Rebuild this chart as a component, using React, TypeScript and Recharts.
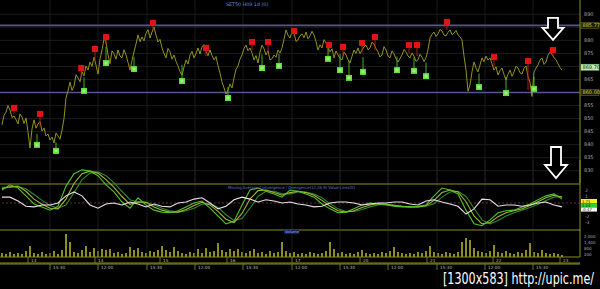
import React from "react";
import {
  ComposedChart,
  Line,
  Scatter,
  Bar,
  XAxis,
  YAxis,
  ReferenceLine,
  ReferenceDot,
  ErrorBar,
} from "recharts";

// ---------- DATA ----------
// price at each bar (4 px apart) and the swing between two bars
const priceClose = [
  847.6, 852.5, 853.3, 851.0, 847.9, 850.6, 850.2, 838.7, 849.5, 847.9,
  845.2, 843.3, 841.8, 840.6, 843.3, 845.6, 857.9, 864.0, 862.5, 865.6,
  867.9, 870.2, 871.7, 873.6, 867.1, 876.3, 879.4, 871.0, 874.8, 876.3,
  873.3, 874.4, 868.6, 875.6, 882.1, 881.3, 882.8, 880.9, 885.1, 879.4,
  877.1, 873.3, 875.6, 874.4, 870.2, 866.7, 872.5, 874.4, 873.3, 877.1,
  877.5, 875.6, 876.3, 872.5, 870.2, 864.0, 859.4, 863.3, 865.6, 870.2,
  874.4, 878.2, 877.1, 872.5, 871.3, 878.2, 874.4, 872.5, 874.4, 876.3,
  877.1, 884.0, 880.9, 882.8, 880.2, 882.5, 883.2, 881.7, 882.1, 876.3,
  877.1, 879.0, 875.6, 873.3, 874.4, 872.5, 874.4, 871.3, 876.3, 877.1,
  876.3, 878.2, 877.1, 878.6, 875.6, 874.4, 876.3, 873.3, 874.8, 871.7,
  874.4, 875.6, 873.3, 874.0, 872.5, 873.6, 873.3, 880.9, 883.2, 882.5,
  883.6, 881.7, 884.0, 882.8, 882.1, 880.2, 868.6, 862.9, 871.7, 867.9,
  873.3, 874.0, 873.3, 868.6, 866.7, 869.4, 864.8, 868.6, 867.9, 869.4,
  867.1, 870.2, 864.0, 867.9, 870.6, 873.3, 871.7, 875.6, 873.3, 871.0,
  868.6,
];
const priceMid = [
  851.2, 855.0, 850.4, 849.6, 851.8, 848.1, 845.0, 846.0, 846.3, 848.8,
  846.4, 844.1, 842.9, 844.5, 842.1, 850.0, 860.6, 860.8, 866.8, 864.1,
  866.4, 868.6, 870.0, 870.5, 872.9, 880.6, 874.5, 876.0, 872.8, 874.0,
  876.4, 871.6, 872.3, 878.6, 879.5, 879.8, 884.1, 883.2, 882.0, 880.4,
  875.0, 876.9, 872.8, 871.9, 868.0, 869.8, 870.9, 875.8, 875.0, 874.8,
  878.4, 874.1, 874.2, 873.8, 867.5, 861.8, 861.0, 861.7, 868.9, 872.8,
  876.9, 876.0, 875.1, 874.2, 875.5, 876.8, 876.0, 873.0, 873.5, 875.2,
  880.5, 882.0, 883.4, 879.6, 881.8, 881.0, 880.6, 883.5, 879.5, 878.3,
  880.3, 877.1, 876.8, 875.9, 873.0, 875.5, 872.6, 873.9, 875.0, 874.9,
  877.5, 876.4, 879.3, 876.9, 873.6, 877.6, 874.0, 876.0, 872.9, 873.1,
  876.5, 874.0, 875.2, 871.9, 874.7, 871.9, 876.5, 882.3, 881.5, 884.2,
  882.0, 883.1, 882.2, 883.8, 881.4, 874.0, 860.5, 868.0, 869.4, 870.6,
  871.8, 872.4, 871.0, 869.9, 868.4, 866.9, 867.0, 866.2, 870.1, 867.6,
  869.3, 866.0, 858.5, 869.4, 872.4, 870.8, 874.4, 874.6, 872.6, 869.6,
];

const sellSignals = [
  { i: 3, v: 854.1, e: [2.2, 0] }, { i: 9.5, v: 851.8, e: [4.7, 0] },
  { i: 19.8, v: 869.4, e: [3.2, 0] }, { i: 23.25, v: 876.7, e: [4.2, 0] },
  { i: 26, v: 881.3, e: [3.2, 0] }, { i: 37.75, v: 886.7, e: [2.2, 0] },
  { i: 51, v: 877.1, e: [3.2, 0] }, { i: 62.5, v: 879.4, e: [3.2, 0] },
  { i: 66.5, v: 879.4, e: [4.2, 0] }, { i: 73, v: 883.6, e: [2.2, 0] },
  { i: 81.75, v: 878.2, e: [3.2, 0] }, { i: 85.25, v: 877.5, e: [3.2, 0] },
  { i: 90, v: 879.0, e: [3.7, 0] }, { i: 93.25, v: 881.3, e: [5.2, 0] },
  { i: 101.75, v: 878.2, e: [3.2, 0] }, { i: 103.75, v: 878.2, e: [4.2, 0] },
  { i: 111.25, v: 887.1, e: [3.2, 0] }, { i: 123, v: 873.6, e: [3.7, 0] },
  { i: 131.5, v: 872.1, e: [11.2, 0] }, { i: 137.75, v: 876.3, e: [2.2, 0] },
];

const buySignals = [
  { i: 8.75, v: 839.9, e: [0, 4.2] }, { i: 13.5, v: 837.6, e: [0, 3.2] },
  { i: 20.5, v: 860.6, e: [0, 5.2] }, { i: 26, v: 871.3, e: [0, 6.2] },
  { i: 33, v: 869.0, e: [0, 4.7] }, { i: 45, v: 864.4, e: [0, 6.2] },
  { i: 56.5, v: 857.9, e: [0, 4.2] }, { i: 65, v: 869.4, e: [0, 5.2] },
  { i: 69.25, v: 870.2, e: [0, 4.7] }, { i: 81.5, v: 872.9, e: [0, 5.7] },
  { i: 84.5, v: 868.6, e: [0, 6.2] }, { i: 86.75, v: 865.6, e: [0, 6.7] },
  { i: 90.25, v: 867.9, e: [0, 5.7] }, { i: 98.75, v: 868.6, e: [0, 5.2] },
  { i: 103, v: 868.3, e: [0, 5.2] }, { i: 106, v: 866.3, e: [0, 5.2] },
  { i: 119.25, v: 862.1, e: [0, 5.2] }, { i: 126, v: 859.8, e: [0, 6.2] },
  { i: 133, v: 861.4, e: [0, 4.7] },
];

const priceGrid = [830, 835, 840, 845, 850, 855, 860, 865, 870, 875, 880, 885, 890];
const priceTicks = [830, 835, 840, 845, 850, 855, 865, 875, 880, 890];
const bandHigh = 885.77;
const bandLow = 860.0;
const lastPrice = 869.7;

const macdLine = [
  2.0, 2.8, 2.3, 1.1, -0.15, -0.6, -1.1, -0.5, 2.6, 4.5,
  5.1, 4.9, 4.2, 2.8, 1.7, 0.15, -0.8, 0.8, -0.3, -1.1,
  -1.4, -1.5, -1.2, -0.6, 0, 0.3, -0.8, -2.0, -3.2, -2.8,
  -0.3, 2.0, 2.3, 1.8, 1.4, 0.9, 2.0, 1.8, 1.4, 0.9,
  -0.15, -0.9, -1.5, -1.4, -0.9, -0.3, 0, -0.15, -0.3, -0.5,
  -0.6, -0.6, -0.5, -0.3, 1.1, 2.3, 2.0, 1.4, -1.1, -3.2,
  -3.5, -2.6, -1.5, -1.2, -1.1, -0.6, -0.15, 0.5, 1.1, 1.4,
  0.6,
];
const signalLine = [
  2.2, 2.5, 2.6, 1.8, 0.6, -0.2, -0.8, -0.9, 0.6, 3.0,
  4.5, 4.9, 4.6, 3.6, 2.4, 1.0, -0.2, 0.2, 0.1, -0.6,
  -1.1, -1.4, -1.4, -1.0, -0.4, 0.1, -0.3, -1.3, -2.5, -3.0,
  -1.6, 0.6, 1.9, 2.0, 1.6, 1.2, 1.6, 1.8, 1.6, 1.2,
  0.4, -0.5, -1.2, -1.4, -1.2, -0.7, -0.3, -0.1, -0.2, -0.4,
  -0.5, -0.6, -0.6, -0.4, 0.4, 1.6, 2.0, 1.7, 0.2, -2.0,
  -3.2, -3.0, -2.1, -1.5, -1.2, -0.9, -0.4, 0.2, 0.8, 1.2,
  0.9,
];
const slowLine = [
  2.4, 2.4, 2.5, 2.2, 1.3, 0.4, -0.4, -0.8, -0.3, 1.6,
  3.6, 4.6, 4.8, 4.2, 3.1, 1.8, 0.5, 0.1, 0.1, -0.3,
  -0.8, -1.2, -1.4, -1.2, -0.8, -0.2, -0.1, -0.7, -1.8, -2.7,
  -2.4, -0.8, 1.0, 1.8, 1.8, 1.4, 1.4, 1.7, 1.7, 1.4,
  0.8, -0.1, -0.9, -1.3, -1.3, -1.0, -0.6, -0.3, -0.2, -0.3,
  -0.5, -0.6, -0.6, -0.5, -0.1, 0.9, 1.7, 1.8, 1.0, -0.8,
  -2.6, -3.2, -2.7, -2.0, -1.5, -1.1, -0.7, -0.2, 0.4, 0.9,
  1.0,
];
const oscLine = [
  0.9, 0.9, 0.3, -0.5, -0.6, -0.3, -0.3, 0, 1.1, 1.7,
  1.1, -0.3, -0.8, -0.15, 0, -0.3, 0.15, -0.15, -0.6, -0.15,
  -0.5, -0.6, 0, 0.15, 0.6, 0.8, 0, -0.9, -0.5, 0.5,
  0.9, 0.6, 0.15, 0.5, 0.3, 0, 0.15, -0.15, -0.3, -0.6,
  -0.5, 0, 0.15, 0.15, 0, -0.3, -0.15, 0, 0, 0.15,
  0.15, -0.15, -0.3, 0.3, 0.5, 0.15, -0.15, -0.5, -1.7, -0.9,
  0.6, 0.5, -0.5, -0.3, -0.3, -0.5, -0.3, 0, 0.15, -0.3,
  -0.6,
];
const macdTicks = [-3, -2, 1, 2];
const macdBadges = ["1.71", "1.24", "-0.47"];

const volumeValues = [
  400, 300, 500, 300, 400, 300, 600, 1100, 400, 300,
  500, 300, 400, 600, 300, 700, 2300, 1500, 500, 400,
  700, 1100, 500, 900, 600, 800, 700, 800, 400, 500,
  300, 400, 1000, 700, 900, 500, 400, 600, 500, 700,
  1100, 700, 500, 1000, 600, 400, 300, 500, 400, 800,
  400, 900, 500, 600, 1400, 700, 500, 800, 600, 800,
  500, 400, 600, 800, 400, 500, 300, 600, 400, 500,
  1500, 600, 400, 500, 300, 400, 300, 500, 400, 300,
  400, 600, 1500, 800, 400, 500, 300, 400, 300, 500,
  700, 400, 300, 400, 300, 500, 400, 600, 1000, 500,
  400, 300, 400, 300, 500, 400, 600, 1100, 500, 400,
  300, 500, 400, 300, 500, 1500, 1900, 1700, 900, 600,
  500, 400, 600, 1200, 500, 400, 600, 400, 300, 500,
  400, 700, 1400, 500, 400, 700, 400, 300, 400, 300,
  200,
];
const volumeTicks = [200, 800, 1400, 2000];

const hourTicks = [12, 24, 36.25, 48.25, 60.25, 72.5, 84.5, 96.5, 108.75, 120.75, 132.75];
const hourLabels = ["15:30", "12:00", "15:30", "12:00", "15:30", "12:00", "15:30", "12:00", "15:30", "12:00", "15:30"];
const dayTicks = [6.5, 23.25, 39.5, 56.25, 72.5, 89.5, 106.25, 122.75, 139.5];
const dayLabels = ["13", "14", "15", "16", "17", "20", "21", "22", "23"];

// ---------- BUILT TABLES ----------
const priceData: { i: number; v: number }[] = [];
priceClose.forEach((v, k) => {
  priceData.push({ i: k, v });
  if (k < priceMid.length) priceData.push({ i: k + 0.5, v: priceMid[k] });
});
const macdData = macdLine.map((m, j) => ({
  i: j * 2,
  m,
  s: signalLine[j],
  d: slowLine[j],
  w: oscLine[j],
}));
const volumeData = volumeValues.map((v, i) => ({ i, v }));

// ---------- STYLE ----------
const AXIS = "#8c8c22";
const GRID = "#222222";
const FONT = "DejaVu Sans";
const X_DOMAIN: [number, number] = [-0.5, 144.5];

const Badge = (props: any) => {
  const { viewBox, text, bg, fg, border } = props;
  if (!viewBox) return null;
  const x = viewBox.x + viewBox.width + 1;
  const y = viewBox.y;
  return (
    <g>
      <rect x={x} y={y - 3} width={18} height={6} fill={bg} stroke={border} strokeWidth={0.6} />
      <text x={x + 1.5} y={y + 1.8} fontSize={5} fill={fg} fontFamily={FONT}>
        {text}
      </text>
    </g>
  );
};

const SellSquare = (p: any) => (
  <rect x={p.cx - 3} y={p.cy - 3} width={6} height={6} fill="#e01414" />
);
const BuySquare = (p: any) => (
  <g>
    <rect x={p.cx - 3} y={p.cy - 3} width={6} height={6} fill="#5fe03c" />
    <rect x={p.cx - 1.5} y={p.cy - 1.5} width={3} height={3} fill="#9ff07a" />
  </g>
);

const arrowShape = (shaftH: number, headH: number, shaftW: number, headW: number) => (p: any) => {
  const { cx, cy } = p;
  const d = [
    `M${cx - shaftW / 2},${cy - headH - shaftH}`,
    `L${cx + shaftW / 2},${cy - headH - shaftH}`,
    `L${cx + shaftW / 2},${cy - headH}`,
    `L${cx + headW / 2},${cy - headH}`,
    `L${cx},${cy}`,
    `L${cx - headW / 2},${cy - headH}`,
    `L${cx - shaftW / 2},${cy - headH}`,
    "Z",
  ].join(" ");
  return <path d={d} fill="#000" stroke="#ffffff" strokeWidth={1.8} strokeLinejoin="miter" />;
};

const makeTimeTick = (ticks: number[], labels: string[]) => (props: any) => {
  const { x, y, payload } = props;
  const idx = ticks.indexOf(payload.value);
  return (
    <g>
      <line x1={x} x2={x} y1={y} y2={y + 6} stroke={AXIS} strokeWidth={0.8} />
      <text x={x + 3} y={y + 4.6} fontSize={4.2} fill="#bdbdbd" fontFamily={FONT}>
        {labels[idx]}
      </text>
    </g>
  );
};
const HourTick = makeTimeTick(hourTicks, hourLabels);
const DayTick = makeTimeTick(dayTicks, dayLabels);

export default function App() {
  return (
    <div
      style={{
        position: "fixed",
        left: 0,
        top: 0,
        width: 600,
        height: 289,
        background: "#000",
        overflow: "hidden",
      }}
    >
      {/* PRICE PANEL */}
      <div style={{ position: "absolute", left: 0, top: 0 }}>
        <ComposedChart width={600} height={183} data={priceData} margin={{ top: 0, right: 0, bottom: 0, left: 0 }}>
          <XAxis dataKey="i" type="number" domain={X_DOMAIN} hide allowDataOverflow />
          <YAxis
            orientation="right"
            width={20}
            domain={[825.29, 895.49]}
            ticks={priceTicks}
            interval={0}
            allowDataOverflow
            tickLine={false}
            tickSize={3}
            tickMargin={1}
            axisLine={{ stroke: AXIS, strokeWidth: 1 }}
            tick={{ fontSize: 5, fill: "#a8a8a8", fontFamily: FONT }}
          />
          {priceGrid.map((t) => (
            <ReferenceLine key={"h" + t} y={t} stroke={GRID} strokeWidth={0.8} />
          ))}
          {hourTicks.map((t) => (
            <ReferenceLine key={"v" + t} x={t} stroke={GRID} strokeWidth={0.8} />
          ))}
          <ReferenceLine
            y={bandHigh}
            stroke="#565688"
            strokeWidth={1.6}
            label={(p: any) => <Badge viewBox={p.viewBox} text="885.77" bg="#1e1e06" fg="#d6d640" border="#6a6a20" />}
          />
          <ReferenceLine
            y={bandLow}
            stroke="#565688"
            strokeWidth={1.6}
            label={(p: any) => <Badge viewBox={p.viewBox} text="860.00" bg="#1e1e06" fg="#d6d640" border="#6a6a20" />}
          />
          <ReferenceLine
            y={lastPrice}
            stroke="none"
            label={(p: any) => <Badge viewBox={p.viewBox} text="869.70" bg="#bfeebb" fg="#103010" border="#80c080" />}
          />
          <Line
            dataKey="v"
            stroke="#93931e"
            strokeWidth={1}
            dot={false}
            activeDot={false}
            isAnimationActive={false}
          />
          <Scatter data={sellSignals} dataKey="v" shape={SellSquare} isAnimationActive={false}>
            <ErrorBar dataKey="e" direction="y" width={0} stroke="#c81818" strokeWidth={0.9} isAnimationActive={false} />
          </Scatter>
          <Scatter data={buySignals} dataKey="v" shape={BuySquare} isAnimationActive={false}>
            <ErrorBar dataKey="e" direction="y" width={0} stroke="#4ec030" strokeWidth={0.9} isAnimationActive={false} />
          </Scatter>
          <ReferenceDot x={137.75} y={880.2} r={0} shape={arrowShape(10, 12, 10, 21)} />
          <ReferenceDot x={138.5} y={827.2} r={0} shape={arrowShape(18, 13, 10, 22)} />
        </ComposedChart>
      </div>

      {/* MACD PANEL */}
      <div style={{ position: "absolute", left: 0, top: 160 }}>
        <ComposedChart width={600} height={71} data={macdData} margin={{ top: 0, right: 0, bottom: 0, left: 0 }}>
          <XAxis dataKey="i" type="number" domain={X_DOMAIN} hide allowDataOverflow />
          <YAxis
            orientation="right"
            width={20}
            domain={[-4.308, 6.615]}
            ticks={macdTicks}
            interval={0}
            allowDataOverflow
            tickLine={false}
            tickSize={3}
            tickMargin={2}
            axisLine={{ stroke: AXIS, strokeWidth: 1 }}
            tick={{ fontSize: 4.5, fill: "#a8a8a8", fontFamily: FONT }}
          />
          {hourTicks.map((t) => (
            <ReferenceLine key={"mv" + t} x={t} stroke={GRID} strokeWidth={0.8} />
          ))}
          <ReferenceLine y={2.923} stroke={AXIS} strokeWidth={1.2} />
          <ReferenceLine y={-4.154} stroke={AXIS} strokeWidth={1.2} />
          <ReferenceLine y={0} stroke="#7a3c3c" strokeWidth={0.8} strokeDasharray="2 2" />
          <Line dataKey="d" stroke="#2f8a2a" strokeWidth={1.1} dot={false} activeDot={false} isAnimationActive={false} />
          <Line dataKey="s" stroke="#a6b832" strokeWidth={1.1} dot={false} activeDot={false} isAnimationActive={false} />
          <Line dataKey="m" stroke="#52c22a" strokeWidth={1.1} dot={false} activeDot={false} isAnimationActive={false} />
          <Line dataKey="w" stroke="#ecdcec" strokeWidth={1.1} dot={false} activeDot={false} isAnimationActive={false} />
        </ComposedChart>
      </div>

      {/* VOLUME PANEL + TIME AXIS */}
      <div style={{ position: "absolute", left: 0, top: 230 }}>
        <ComposedChart width={600} height={40} data={volumeData} margin={{ top: 0, right: 0, bottom: 0, left: 0 }}>
          <XAxis
            xAxisId="h"
            dataKey="i"
            type="number"
            domain={X_DOMAIN}
            allowDataOverflow
            ticks={hourTicks}
            interval={0}
            height={6}
            tickLine={false}
            tickSize={0}
            tickMargin={0}
            axisLine={{ stroke: AXIS, strokeWidth: 1 }}
            tick={HourTick}
          />
          <XAxis
            xAxisId="d"
            dataKey="i"
            type="number"
            domain={X_DOMAIN}
            allowDataOverflow
            ticks={dayTicks}
            interval={0}
            height={6}
            tickLine={false}
            tickSize={0}
            tickMargin={0}
            axisLine={{ stroke: AXIS, strokeWidth: 1 }}
            tick={DayTick}
          />
          <XAxis
            xAxisId="e"
            dataKey="i"
            type="number"
            domain={X_DOMAIN}
            allowDataOverflow
            height={1}
            tick={false}
            tickLine={false}
            axisLine={{ stroke: AXIS, strokeWidth: 1 }}
          />
          <YAxis
            orientation="right"
            width={20}
            domain={[0, 2700]}
            ticks={volumeTicks}
            interval={0}
            allowDataOverflow
            tickLine={false}
            tickSize={3}
            tickMargin={1}
            axisLine={{ stroke: AXIS, strokeWidth: 1 }}
            tick={{ fontSize: 4, fill: "#a8a8a8", fontFamily: FONT }}
            tickFormatter={(v: number) => v.toLocaleString("en-US")}
          />
          {hourTicks.map((t) => (
            <ReferenceLine key={"vv" + t} xAxisId="h" x={t} stroke={GRID} strokeWidth={0.8} />
          ))}
          <Bar xAxisId="h" dataKey="v" fill="#8e8e1e" barSize={2} isAnimationActive={false} />
        </ComposedChart>
      </div>

      {/* TEXT OVERLAY */}
      <svg
        width={600}
        height={289}
        style={{ position: "absolute", left: 0, top: 0, pointerEvents: "none" }}
      >
        <text x={226} y={6} fontSize={4.8} fill="#6d8fd6" fontFamily={FONT}>
          SET50 H09 1d (0)
        </text>
        <text
          x={228}
          y={188.5}
          fontSize={4.2}
          fill="#5a7ad0"
          fontFamily={FONT}
          textLength={127}
          lengthAdjust="spacingAndGlyphs"
        >
          Moving Average Convergence / Divergence(12,26,9) Value Lines(0)
        </text>
        <rect x={284} y={229.8} width={15} height={4.4} fill="#14224a" />
        <text x={285} y={233.4} fontSize={3.8} fill="#8fb0ff" fontFamily={FONT}>
          Volume
        </text>
        <rect x={581} y={199} width={16} height={4.2} fill="#f0f020" />
        <text x={582} y={202.6} fontSize={3.8} fill="#202000" fontFamily={FONT}>
          {macdBadges[0]}
        </text>
        <rect x={581} y={203.2} width={16} height={4.2} fill="#30d030" />
        <text x={582} y={206.8} fontSize={3.8} fill="#002000" fontFamily={FONT}>
          {macdBadges[1]}
        </text>
        <rect x={581} y={207.4} width={16} height={4.2} fill="#f4f4f4" />
        <text x={582} y={211} fontSize={3.8} fill="#202020" fontFamily={FONT}>
          {macdBadges[2]}
        </text>
        <g transform="translate(443,283.5) scale(1,1.35)">
          <text
            x={0}
            y={0}
            fontSize={12}
            fill="#ffffff"
            fontFamily="DejaVu Sans Condensed, DejaVu Sans"
            textLength={151}
            lengthAdjust="spacingAndGlyphs"
          >
            [1300x583] http://upic.me/
          </text>
        </g>
      </svg>
    </div>
  );
}
